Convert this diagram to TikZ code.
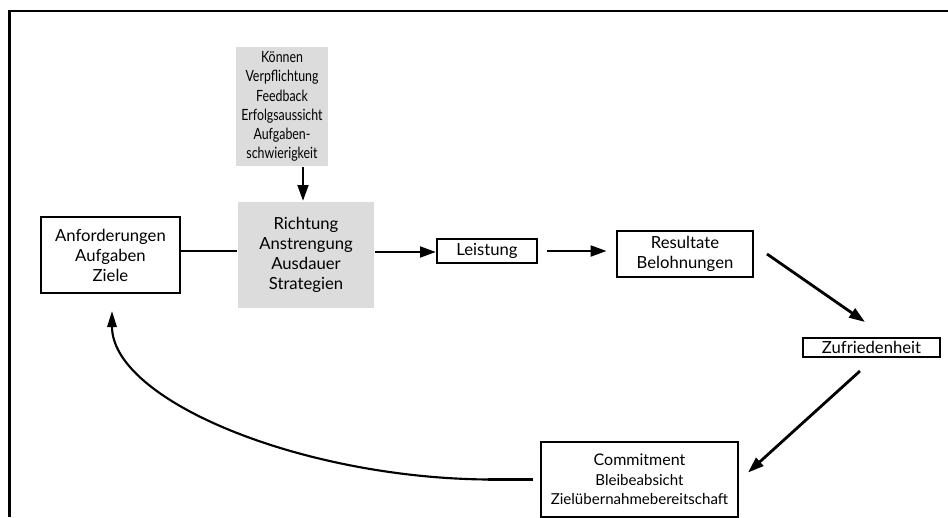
\documentclass[tikz,border=0pt]{standalone}
\usepackage{fontspec}
\setmainfont{Lato}
\newfontfamily\narrowlato[FakeStretch=0.8]{Lato}
\usetikzlibrary{arrows.meta,calc}
\definecolor{boxgray}{HTML}{DCDCDC}
\tikzset{
  base/.style={font=\fontsize{12.5}{15}\selectfont, align=center, inner sep=0pt, line width=1.5pt},
  whitebox/.style={base, draw=black, fill=white},
  graybox/.style={base, fill=boxgray},
  conn/.style={line width=2.1pt},
  arr/.style={line width=2.1pt, -{Triangle[length=12pt,width=8pt]}},
}
\begin{document}
\begin{tikzpicture}[x=0.75pt,y=-0.75pt]
\useasboundingbox (0,0) rectangle (948,517);
% frame
\draw[line width=1.6pt] (9.5,517) -- (9.5,11) -- (948,11);
% nodes
\node[graybox, font=\narrowlato\fontsize{11.6}{14.4}\selectfont, minimum width=92*0.75pt, minimum height=119*0.75pt] (top) at (282,106.5)
  {Können\\Verpflichtung\\Feedback\\Erfolgsaussicht\\Aufgaben-\\schwierigkeit};
\node[graybox, minimum width=136*0.75pt, minimum height=106*0.75pt] (mid) at (306,255)
  {Richtung\\Anstrengung\\Ausdauer\\Strategien};
\node[whitebox, minimum width=139*0.75pt, minimum height=76*0.75pt] (anf) at (110.5,255)
  {Anforderungen\\Aufgaben\\Ziele};
\node[whitebox, minimum width=100*0.75pt, minimum height=24*0.75pt] (lei) at (487,251)
  {Leistung};
\node[whitebox, minimum width=136*0.75pt, minimum height=46*0.75pt] (res) at (685,254)
  {Resultate\\Belohnungen};
\node[whitebox, minimum width=137*0.75pt, minimum height=19*0.75pt] (zuf) at (871.5,347.5)
  {Zufriedenheit};
\node[whitebox, font=\fontsize{12}{14.5}\selectfont, minimum width=197*0.75pt, minimum height=75*0.75pt] (com) at (639.5,479.5)
  {Commitment\\{\fontsize{11.3}{14.5}\selectfont Bleibeabsicht}\\{\fontsize{11.3}{14.5}\selectfont Zielübernahmebereitschaft}};
% connectors
\draw[arr] ([xshift=15.75pt]top.south) -- ([xshift=-2.25pt]mid.north);
\draw[conn] ([yshift=3pt]anf.east) -- ([yshift=3pt]mid.west);
\draw[arr] ([yshift=2.25pt]mid.east) -- ([yshift=-0.75pt]lei.west);
\draw[arr, shorten <=7pt, shorten >=7pt] (lei.east) -- (lei.east -| res.west);
\draw[arr] ($(res.east)+(13,0)$) -- ($(zuf.north)+(-6.5,-15)$);
\draw[arr] ($(zuf.south)+(-11.5,13)$) -- ($(com.east)+(9,-7)$);
\coordinate (bend) at ($(com.west)+(-52,0)$);
\coordinate (tip) at ($(anf.south)+(1.5,17)$);
\draw[line width=2.6pt, shorten <=5pt] (com.west) -- (bend);
\draw[line width=1.6pt, -{Triangle[length=12pt,width=7pt]}] (bend) .. controls (300,478) and (112,400) .. (tip);
\end{tikzpicture}
\end{document}
